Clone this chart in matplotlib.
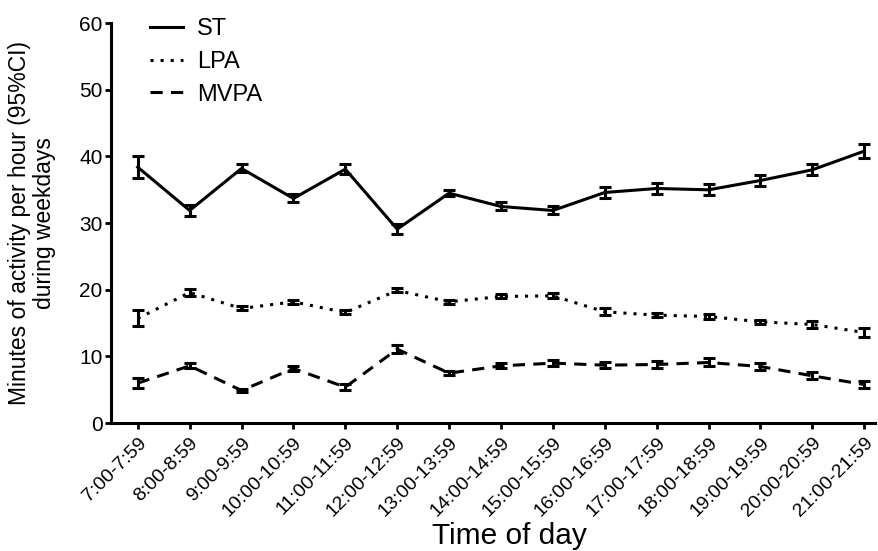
import matplotlib.pyplot as plt
import numpy as np

plt.rcParams['font.family'] = ['Liberation Sans', 'DejaVu Sans']

# Hourly time slots on weekdays
slots = ["7:00-7:59", "8:00-8:59", "9:00-9:59", "10:00-10:59", "11:00-11:59",
         "12:00-12:59", "13:00-13:59", "14:00-14:59", "15:00-15:59", "16:00-16:59",
         "17:00-17:59", "18:00-18:59", "19:00-19:59", "20:00-20:59", "21:00-21:59"]

# Mean minutes per hour and half-width of 95% CI
st_mean = [38.4, 31.9, 38.2, 33.7, 38.1, 29.1, 34.5, 32.5, 31.9, 34.6, 35.2, 35.0, 36.4, 38.0, 40.8]
st_ci = [1.7, 0.8, 0.6, 0.6, 0.7, 0.7, 0.5, 0.6, 0.6, 0.8, 0.8, 0.8, 0.8, 0.8, 1.0]

lpa_mean = [15.7, 19.6, 17.2, 18.2, 16.6, 19.9, 18.2, 19.0, 19.1, 16.7, 16.2, 16.0, 15.2, 14.8, 13.6]
lpa_ci = [1.2, 0.5, 0.3, 0.3, 0.3, 0.3, 0.3, 0.3, 0.4, 0.5, 0.3, 0.4, 0.3, 0.5, 0.7]

mvpa_mean = [6.0, 8.6, 4.9, 8.2, 5.4, 11.1, 7.5, 8.6, 9.0, 8.7, 8.8, 9.1, 8.5, 7.1, 5.8]
mvpa_ci = [0.7, 0.4, 0.2, 0.4, 0.4, 0.6, 0.3, 0.4, 0.4, 0.5, 0.5, 0.6, 0.5, 0.5, 0.5]

x = np.arange(len(slots))

fig = plt.figure(figsize=(8.79, 5.51), dpi=100)
ax = fig.add_axes([0.126, 0.232, 0.869, 0.726])

lw = 2.2
series = [("ST", st_mean, st_ci, '-'),
          ("LPA", lpa_mean, lpa_ci, (0, (1, 2.3))),
          ("MVPA", mvpa_mean, mvpa_ci, (0, (4, 2.7)))]

for name, mean, ci, ls in series:
    ax.errorbar(x, mean, yerr=ci, color='black', linestyle=ls, linewidth=lw,
                elinewidth=lw, capsize=4.5, capthick=lw)
    ax.plot([], [], color='black', linestyle=ls, linewidth=lw, label=name)

ax.set_xlim(-0.52, 14.2)
ax.set_ylim(0, 60)
ax.set_yticks([0, 10, 20, 30, 40, 50, 60])
ax.set_xticks(x)
ax.set_xticklabels(slots, rotation=45, ha='right', rotation_mode='anchor', fontsize=14)
ax.tick_params(axis='y', labelsize=15, width=2, length=4, pad=2)
ax.tick_params(axis='x', width=2, length=4, pad=4)

for side in ['top', 'right']:
    ax.spines[side].set_visible(False)
for side in ['left', 'bottom']:
    ax.spines[side].set_linewidth(2.2)

ax.set_ylabel("Minutes of activity per hour (95%CI)\nduring weekdays", fontsize=16.5,
              linespacing=1.1)
ax.yaxis.set_label_coords(-0.072, 0.5)
ax.set_xlabel("Time of day", fontsize=21.5)
ax.xaxis.set_label_coords(0.522, -0.248)

handles, labels = ax.get_legend_handles_labels()
ax.legend(handles[-3:], labels[-3:], loc='upper left', bbox_to_anchor=(0.023, 1.065),
          frameon=False, fontsize=17, handlelength=1.4, handletextpad=0.6,
          labelspacing=0.45)

fig.savefig("out.png", dpi=100)
